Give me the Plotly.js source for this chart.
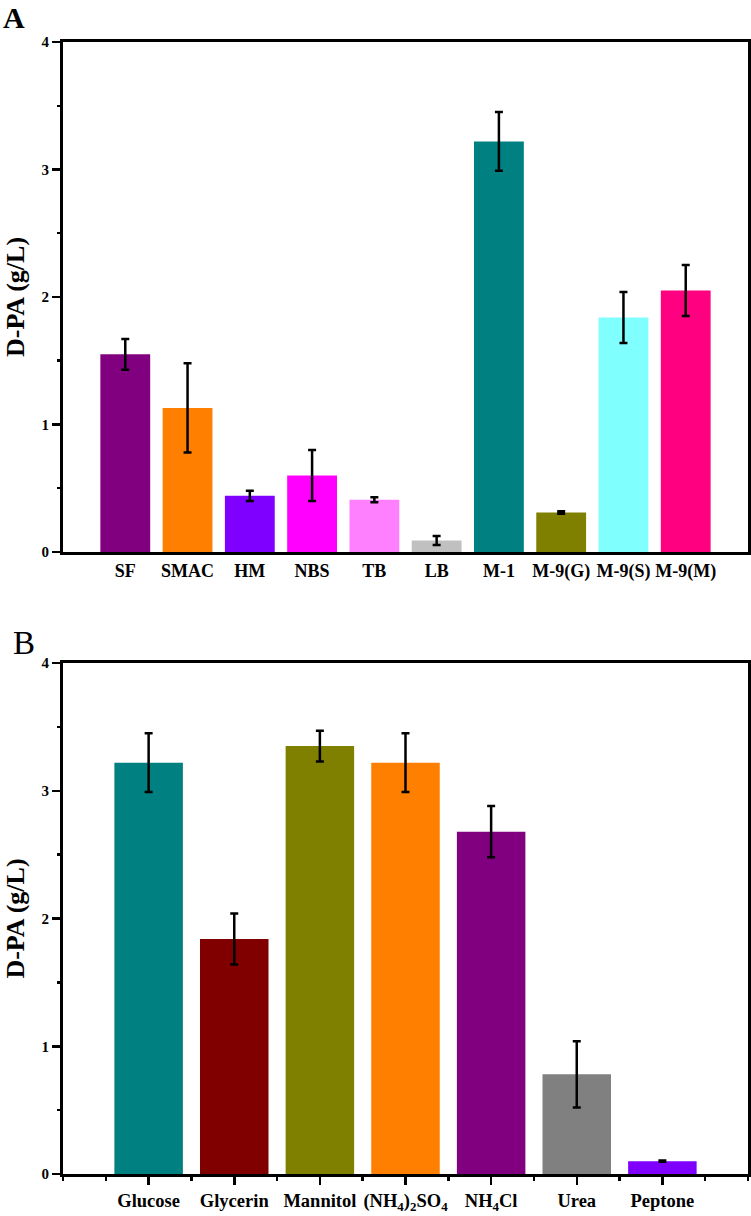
<!DOCTYPE html>
<html><head><meta charset="utf-8">
<script src="https://cdn.plot.ly/plotly-3.0.1.min.js"></script>
<style>body{margin:0;background:#fff}#c{width:751px;height:1216px}</style>
</head><body><div id="c"></div>
<script>
// Panel A: media
const catsA = ['SF','SMAC','HM','NBS','TB','LB','M-1','M-9(G)','M-9(S)','M-9(M)'];
const valsA = [1.55, 1.13, 0.44, 0.60, 0.41, 0.09, 3.22, 0.31, 1.84, 2.05];
const errA  = [0.12, 0.35, 0.04, 0.20, 0.02, 0.035, 0.23, 0.01, 0.20, 0.20];
const colA  = ['#800080','#FF8000','#8000FF','#FF00FF','#FF80FF','#C0C0C0','#008080','#808000','#80FFFF','#FF0080'];
// Panel B: carbon / nitrogen sources
const catsB = ['Glucose','Glycerin','Mannitol','(NH<sub>4</sub>)<sub>2</sub>SO<sub>4</sub>','NH<sub>4</sub>Cl','Urea','Peptone'];
const valsB = [3.22, 1.84, 3.35, 3.22, 2.68, 0.78, 0.10];
const errB  = [0.23, 0.20, 0.12, 0.23, 0.20, 0.26, 0.005];
const colB  = ['#008080','#800000','#808000','#FF8000','#800080','#808080','#8000FF'];
const yTicks = [0, 1, 2, 3, 4];

const posA = catsA.map((c,i)=>i);
const posB = catsB.map((c,i)=>i);
const F = '"Liberation Serif", serif';

const traces = [
  {type:'bar', x:posA, y:valsA, marker:{color:colA}, width:0.8,
   error_y:{type:'data', array:errA, visible:true, color:'#000', thickness:2.5, width:4},
   xaxis:'x', yaxis:'y', hoverinfo:'none'},
  {type:'bar', x:posB, y:valsB, marker:{color:colB}, width:0.8,
   error_y:{type:'data', array:errB, visible:true, color:'#000', thickness:2.5, width:4},
   xaxis:'x2', yaxis:'y2', hoverinfo:'none'}
];

const yax = (dom, anchor) => ({
  domain: dom, anchor: anchor, range:[0,4],
  tickvals: yTicks, ticktext: yTicks.map(v=>'<b>'+v+'</b>'),
  ticks:'outside', ticklen:8, tickwidth:2.5, tickcolor:'#000',
  minor:{ticks:'outside', dtick:0.5, tick0:0, ticklen:3, tickwidth:2.5, tickcolor:'#000'},
  showline:true, linewidth:3, linecolor:'#000', mirror:true,
  showgrid:false, zeroline:false,
  tickfont:{family:F, size:15, color:'#000'},
  title:{text:'<b>D-PA (g/L)</b>', font:{family:F, size:26, color:'#000'}, standoff:10}
});

const layout = {
  width:751, height:1216,
  margin:{l:63, r:3, t:42, b:42},
  paper_bgcolor:'#fff', plot_bgcolor:'#fff',
  showlegend:false,
  xaxis:{domain:[0,1], anchor:'y', range:[-1, 10], tickvals:posA, ticktext:catsA.map(c=>'<b>'+c+'</b>'),
    ticks:'', showline:true, linewidth:3, linecolor:'#000', mirror:true, showgrid:false, zeroline:false,
    tickfont:{family:F, size:18, color:'#000'}},
  yaxis: yax([0.5495,1], 'x'),
  xaxis2:{domain:[0,1], anchor:'y2', range:[-1, 7],
    tickvals:posB, ticktext:catsB.map(c=>'<b>'+c+'</b>'),
    ticks:'outside', ticklen:8, tickwidth:2.5, tickcolor:'#000',
    minor:{ticks:'outside', dtick:0.5, tick0:-1, ticklen:4, tickwidth:2.5, tickcolor:'#000'},
    showline:true, linewidth:3, linecolor:'#000', mirror:true, showgrid:false, zeroline:false,
    tickfont:{family:F, size:18.5, color:'#000'}},
  yaxis2: yax([0,0.4514], 'x2'),
  annotations:[
    {text:'<b>A</b>', xref:'paper', yref:'paper', x:0, y:1, xanchor:'left', yanchor:'middle',
     xshift:-62, yshift:25, showarrow:false, font:{family:F, size:30, color:'#000'}},
    {text:'B', xref:'paper', yref:'paper', x:0, y:0.4514, xanchor:'left', yanchor:'middle',
     xshift:-52, yshift:20, showarrow:false, font:{family:F, size:33, color:'#000'}}
  ]
};

Plotly.newPlot('c', traces, layout, {staticPlot:true});
</script></body></html>
